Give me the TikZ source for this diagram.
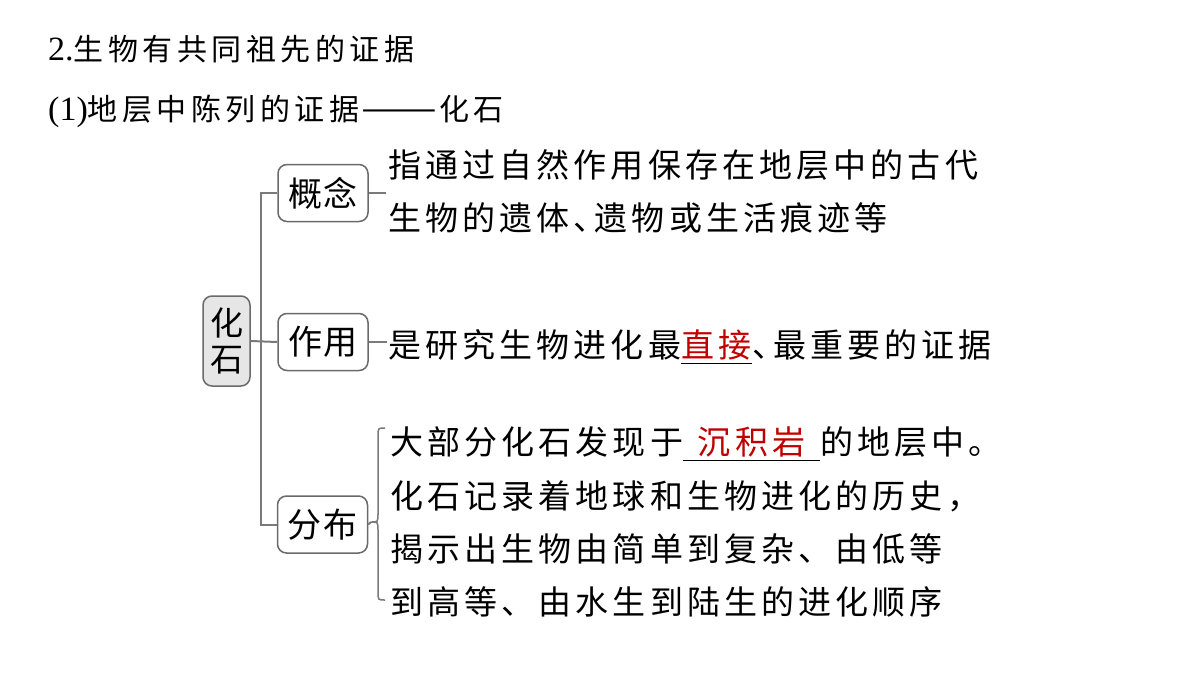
\documentclass[tikz,border=0pt]{standalone}
\usepackage{fontspec}
\setmainfont{Liberation Serif}
\newfontfamily\cjk{Noto Sans CJK SC}
\newfontfamily\cjkT[LetterSpace=15]{Noto Sans CJK SC}
\newfontfamily\cjkB[LetterSpace=12.5]{Noto Sans CJK SC}
\definecolor{boxgray}{HTML}{6A6A6A}
\definecolor{linegray}{HTML}{7A7A7A}
\definecolor{fossilgray}{HTML}{E6E6E6}
\definecolor{ansred}{HTML}{C00000}
\newcommand\fillin[3][c]{\makebox[#2][#1]{\textcolor{ansred}{#3}}\llap{\rule[-7pt]{#2}{1.5pt}}}
\newcommand\dun{、\kern-12pt}
\begin{document}
\begin{tikzpicture}[x=1pt,y=-1pt,
  box/.style={draw=boxgray, line width=1.5pt, rounded corners=9pt, minimum width=90pt,
    minimum height=57pt, inner sep=0pt, font=\fontsize{34}{37}\selectfont\cjk},
  conn/.style={draw=linegray, line width=2pt},
  txt/.style={anchor=base west, inner sep=0pt, font=\fontsize{33}{36}\selectfont\cjkB},
  ttl/.style={anchor=base west, inner sep=0pt, font=\fontsize{34}{38}\selectfont}]
\useasboundingbox (0,0) rectangle (1200,675);
\fill[white] (0,0) rectangle (1200,675);

% titles
\node[ttl] (t1) at (48,60) {2.{\fontsize{30}{36}\selectfont\cjkT 生物有共同祖先的证据}};
\node[ttl] (t2) at (48,120) {(1){\fontsize{30}{36}\selectfont\cjkT 地层中陈列的证据}\kern2pt{\fontsize{34}{36}\selectfont\cjk\scalebox{1.33}[1]{——}}\kern2pt{\fontsize{30}{36}\selectfont\cjkT 化石}};

% boxes
\node[box, fill=fossilgray, minimum width=47pt, minimum height=90pt, align=center,
  font=\fontsize{33}{36}\selectfont\cjk] (fs) at (226.5,341) {化\\石};
\node[box] (gn) at (323,193) {概\hspace{2pt}念};
\node[box] (zy) at (323,342) {作\hspace{2pt}用};
\node[box] (fb) at (322.5,524.5) {分\hspace{2pt}布};

% connectors
\draw[conn] (fs.east) -- (zy.west);
\draw[conn] (gn.west) -- ++(-16,0) |- (fb.west);
\coordinate (e1) at (386,193);
\coordinate (e2) at (387,342);
\draw[conn] (gn.east) -- (e1);
\draw[conn] (zy.east) -- (e2);
\coordinate (btip) at (371,522);
\coordinate (btop) at (385,428);
\coordinate (bbot) at (385,600);
\draw[conn, line width=1.5pt] (btop) .. controls (378,428) .. (378,436) -- (378,514)
  .. controls (378,522) .. (btip) .. controls (378,522) .. (378,530) -- (378,592)
  .. controls (378,600) .. (bbot);
\draw[conn] (fb.east) -- (btip);

% texts
\node[txt] (g1) at (388,177) {指通过自然作用保存在地层中的古代};
\node[txt] (g2) at (388,230) {生物的遗体\dun 遗物或生活痕迹等};
\node[txt] (z1) at (388,357) {是研究生物进化最\fillin[l]{71pt}{直接}\dun 最重要的证据};
\node[txt] (f1) at (390,454) {大部分化石发现于\fillin{137pt}{沉积岩}的地层中。};
\node[txt] (f2) at (390,508) {化石记录着地球和生物进化的历史，};
\node[txt] (f3) at (390,561) {揭示出生物由简单到复杂、由低等};
\node[txt] (f4) at (390,614) {到高等、由水生到陆生的进化顺序};
\end{tikzpicture}
\end{document}
